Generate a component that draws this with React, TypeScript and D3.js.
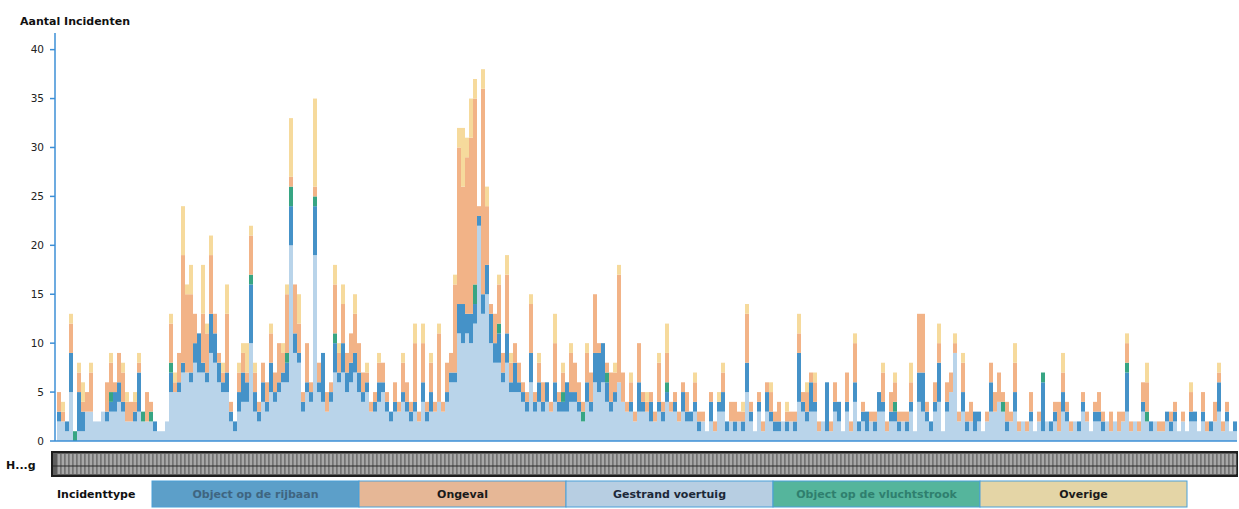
import React from 'react'
import * as d3 from 'd3'

// incident counts per period, stacked bottom to top
const gestrand = [
  2, 2, 1, 5, 0, 1, 1, 3, 3, 2, 2, 3, 2, 3, 3, 4, 3, 2, 2, 2,
  3, 2, 2, 2, 1, 1, 1, 2, 5, 5, 5, 7, 7, 6, 8, 7, 7, 6, 9, 8,
  6, 5, 5, 2, 1, 3, 4, 4, 10, 3, 2, 4, 3, 5, 4, 5, 6, 6, 20, 9,
  8, 3, 5, 4, 19, 5, 4, 3, 4, 7, 6, 7, 5, 6, 7, 5, 4, 5, 3, 3,
  4, 5, 3, 2, 3, 3, 4, 3, 2, 3, 2, 4, 2, 3, 3, 4, 3, 4, 6, 6,
  11, 10, 11, 10, 12, 22, 13, 15, 10, 8, 8, 6, 8, 5, 5, 5, 4, 3, 6, 3,
  4, 3, 4, 3, 4, 3, 3, 3, 4, 4, 3, 2, 4, 3, 6, 5, 6, 4, 3, 4,
  6, 4, 3, 3, 2, 3, 3, 3, 2, 2, 3, 2, 4, 3, 3, 2, 3, 2, 2, 3,
  1, 2, 1, 2, 1, 3, 3, 1, 2, 1, 2, 1, 5, 2, 1, 3, 1, 3, 2, 1,
  1, 2, 1, 2, 1, 4, 3, 2, 3, 3, 1, 2, 1, 1, 3, 2, 1, 3, 1, 4,
  1, 2, 1, 2, 1, 3, 3, 1, 2, 2, 1, 2, 1, 3, 1, 4, 3, 2, 1, 3,
  4, 1, 3, 5, 9, 2, 3, 1, 2, 1, 2, 1, 2, 3, 3, 4, 3, 1, 2, 3,
  1, 2, 1, 2, 1, 2, 1, 2, 1, 2, 1, 3, 2, 1, 2, 1, 3, 2, 1, 2,
  2, 1, 2, 1, 2, 1, 2, 3, 1, 2, 1, 3, 2, 1, 2, 1, 1, 2, 1, 2,
  1, 2, 1, 2, 2, 1, 2, 1, 1, 2, 3, 1, 2, 1, 1,
]
const rijbaan = [
  1, 0, 1, 4, 0, 4, 2, 0, 0, 0, 0, 0, 1, 1, 2, 2, 1, 0, 0, 1,
  4, 0, 0, 0, 1, 0, 0, 0, 2, 0, 1, 1, 0, 1, 2, 4, 1, 1, 4, 3,
  2, 1, 2, 1, 1, 2, 3, 2, 6, 2, 1, 2, 1, 3, 1, 1, 1, 2, 4, 2,
  1, 1, 1, 1, 5, 1, 5, 0, 1, 3, 1, 3, 2, 2, 2, 2, 1, 1, 0, 1,
  2, 1, 1, 1, 1, 0, 1, 1, 1, 1, 0, 2, 1, 2, 0, 0, 0, 1, 1, 1,
  3, 4, 2, 3, 2, 1, 2, 3, 3, 2, 3, 1, 3, 1, 3, 1, 1, 1, 3, 1,
  2, 1, 2, 0, 2, 1, 1, 3, 1, 1, 1, 0, 2, 1, 3, 4, 4, 2, 1, 1,
  0, 0, 0, 1, 0, 3, 1, 0, 2, 0, 1, 1, 1, 0, 1, 0, 2, 1, 1, 1,
  1, 0, 0, 2, 0, 1, 2, 1, 0, 1, 0, 1, 3, 1, 0, 1, 0, 2, 1, 1,
  1, 0, 1, 0, 1, 5, 1, 1, 3, 1, 0, 0, 5, 0, 1, 2, 0, 1, 0, 2,
  1, 1, 2, 0, 1, 2, 1, 0, 1, 1, 1, 0, 1, 1, 0, 3, 4, 1, 1, 1,
  4, 0, 1, 0, 0, 0, 2, 1, 0, 2, 1, 0, 0, 3, 0, 0, 0, 1, 0, 2,
  0, 0, 0, 1, 0, 0, 5, 0, 1, 1, 0, 2, 1, 0, 0, 1, 1, 0, 0, 1,
  1, 1, 0, 0, 0, 0, 0, 4, 0, 0, 0, 1, 0, 1, 0, 0, 0, 1, 1, 1,
  0, 0, 0, 1, 1, 0, 1, 0, 1, 0, 3, 0, 1, 0, 1,
]
const vluchtstrook = [
  0, 0, 0, 0, 1, 0, 0, 0, 0, 0, 0, 0, 0, 1, 0, 0, 0, 0, 0, 0,
  0, 1, 0, 1, 0, 0, 0, 0, 1, 0, 0, 0, 0, 0, 0, 0, 0, 0, 0, 0,
  0, 0, 0, 0, 0, 0, 0, 0, 1, 0, 0, 0, 0, 0, 0, 0, 0, 1, 2, 0,
  0, 0, 0, 0, 1, 0, 0, 0, 0, 1, 0, 0, 0, 0, 0, 0, 0, 0, 0, 0,
  0, 0, 0, 0, 0, 0, 0, 0, 0, 0, 0, 0, 0, 0, 0, 0, 0, 0, 0, 0,
  0, 0, 0, 0, 2, 0, 0, 0, 0, 0, 1, 0, 0, 0, 0, 0, 0, 0, 0, 0,
  0, 0, 0, 0, 0, 0, 1, 0, 0, 0, 0, 1, 0, 0, 0, 0, 0, 1, 0, 0,
  0, 0, 0, 0, 0, 0, 0, 0, 0, 0, 0, 0, 1, 0, 0, 0, 0, 0, 0, 0,
  0, 0, 0, 0, 0, 0, 0, 0, 0, 0, 0, 0, 0, 0, 0, 0, 0, 0, 0, 0,
  0, 0, 0, 0, 0, 0, 0, 0, 0, 0, 0, 0, 0, 0, 0, 0, 0, 0, 0, 0,
  0, 0, 0, 0, 0, 0, 0, 0, 0, 1, 0, 0, 0, 0, 0, 0, 0, 0, 0, 0,
  0, 0, 0, 0, 0, 0, 0, 0, 0, 0, 0, 0, 0, 0, 0, 0, 1, 0, 0, 0,
  0, 0, 0, 0, 0, 0, 1, 0, 0, 0, 0, 0, 0, 0, 0, 0, 0, 0, 0, 0,
  0, 0, 0, 0, 0, 0, 0, 1, 0, 0, 0, 0, 1, 0, 0, 0, 0, 0, 0, 0,
  0, 0, 0, 0, 0, 0, 0, 0, 0, 0, 0, 0, 0, 0, 0,
]
const ongeval = [
  2, 1, 0, 3, 0, 2, 1, 2, 4, 0, 0, 0, 3, 3, 1, 3, 3, 2, 2, 1,
  1, 0, 3, 1, 0, 0, 0, 0, 4, 1, 3, 11, 8, 8, 3, 0, 5, 4, 6, 2,
  1, 1, 6, 1, 0, 2, 2, 1, 4, 2, 1, 2, 2, 3, 2, 4, 2, 6, 1, 5,
  3, 1, 4, 1, 1, 2, 0, 2, 1, 5, 2, 4, 2, 3, 4, 3, 2, 1, 1, 1,
  2, 2, 1, 0, 2, 1, 3, 2, 1, 6, 1, 4, 1, 3, 1, 7, 1, 3, 2, 9,
  16, 12, 16, 18, 19, 1, 21, 6, 1, 3, 4, 2, 6, 2, 2, 2, 1, 1, 5, 1,
  2, 2, 0, 1, 4, 1, 2, 0, 4, 3, 2, 1, 3, 3, 6, 1, 0, 1, 3, 2,
  11, 3, 1, 2, 1, 4, 1, 1, 1, 1, 4, 1, 3, 1, 1, 1, 1, 2, 0, 2,
  1, 1, 0, 1, 1, 0, 2, 0, 2, 2, 1, 1, 5, 1, 0, 1, 1, 1, 2, 1,
  2, 0, 1, 1, 1, 2, 1, 2, 1, 2, 1, 0, 0, 1, 2, 0, 0, 3, 1, 4,
  0, 1, 0, 1, 1, 0, 3, 1, 2, 2, 1, 1, 1, 2, 0, 6, 6, 1, 0, 2,
  2, 0, 2, 2, 1, 1, 3, 1, 2, 0, 0, 0, 1, 2, 2, 3, 1, 2, 1, 3,
  1, 0, 1, 2, 0, 1, 0, 0, 0, 1, 3, 2, 1, 1, 0, 0, 1, 1, 0, 1,
  2, 1, 0, 2, 0, 2, 1, 2, 1, 0, 1, 2, 3, 0, 0, 1, 1, 0, 1, 1,
  0, 1, 0, 2, 0, 0, 2, 1, 0, 2, 1, 1, 1, 0, 0,
]
const overige = [
  0, 1, 0, 1, 0, 1, 2, 0, 1, 0, 0, 0, 0, 1, 0, 0, 1, 1, 0, 1,
  1, 0, 0, 0, 0, 0, 0, 0, 1, 1, 0, 5, 1, 3, 0, 0, 5, 1, 2, 0,
  0, 1, 3, 0, 0, 1, 1, 3, 1, 1, 0, 0, 0, 1, 0, 0, 1, 1, 6, 0,
  3, 0, 0, 0, 9, 0, 0, 0, 0, 2, 1, 2, 0, 0, 2, 0, 0, 1, 0, 0,
  1, 0, 0, 0, 0, 0, 1, 0, 0, 2, 0, 2, 0, 1, 0, 1, 0, 0, 0, 1,
  2, 6, 2, 4, 2, 0, 2, 2, 0, 0, 1, 0, 2, 1, 0, 0, 0, 0, 1, 0,
  1, 0, 0, 0, 3, 0, 1, 0, 1, 0, 0, 0, 1, 0, 0, 0, 0, 0, 0, 1,
  1, 0, 0, 1, 0, 0, 0, 1, 0, 0, 1, 0, 3, 0, 0, 0, 0, 0, 0, 1,
  0, 0, 0, 0, 0, 1, 1, 0, 0, 0, 0, 1, 1, 0, 0, 0, 0, 0, 1, 0,
  0, 0, 1, 0, 0, 2, 0, 1, 0, 1, 0, 0, 0, 0, 0, 0, 0, 0, 0, 1,
  0, 0, 0, 0, 0, 0, 1, 0, 0, 1, 0, 0, 0, 2, 0, 0, 0, 0, 0, 0,
  2, 0, 0, 0, 1, 0, 1, 0, 0, 0, 0, 0, 0, 0, 0, 0, 0, 0, 0, 2,
  0, 0, 0, 0, 0, 0, 0, 0, 0, 0, 0, 2, 0, 0, 0, 0, 0, 0, 0, 0,
  0, 0, 0, 0, 0, 0, 0, 1, 0, 0, 0, 0, 2, 0, 0, 0, 0, 0, 0, 0,
  0, 0, 0, 1, 0, 0, 0, 0, 0, 0, 1, 0, 0, 0, 0,
]

const yTicks = [0, 5, 10, 15, 20, 25, 30, 35, 40]

// stack order (bottom -> top) and legend order differ
const stackKeys = ['gestrand', 'rijbaan', 'vluchtstrook', 'ongeval', 'overige']
const legendKeys = ['rijbaan', 'ongeval', 'gestrand', 'vluchtstrook', 'overige']

const labels: Record<string, string> = {
  rijbaan: 'Object op de rijbaan',
  ongeval: 'Ongeval',
  gestrand: 'Gestrand voertuig',
  vluchtstrook: 'Object op de vluchtstrook',
  overige: 'Overige',
}
const barColor: Record<string, string> = {
  gestrand: '#b9d4ea',
  rijbaan: '#4592c8',
  vluchtstrook: '#37a583',
  ongeval: '#f2b387',
  overige: '#f6da9c',
}
const legendFill: Record<string, string> = {
  rijbaan: '#5c9fc9',
  ongeval: '#e6b796',
  gestrand: '#b7cee2',
  vluchtstrook: '#55b59c',
  overige: '#e4d5a6',
}
const legendText: Record<string, string> = {
  rijbaan: '#3f6580',
  ongeval: '#1a1a1a',
  gestrand: '#1c2838',
  vluchtstrook: '#2f7f6e',
  overige: '#1a1a1a',
}

const series: Record<string, number[]> = { gestrand, rijbaan, vluchtstrook, ongeval, overige }

const App: React.FC = () => {
  const width = 1239
  const height = 509
  const left = 57
  const right = 1237
  const baseY = 441

  const rows = gestrand.map((_, i) => {
    const row: Record<string, number> = { i }
    stackKeys.forEach((k) => { row[k] = series[k][i] })
    return row
  })

  const stacked = d3.stack<Record<string, number>>().keys(stackKeys)(rows)

  const xScale = d3.scaleBand<number>()
    .domain(rows.map((r) => r.i))
    .range([left, right])
    .padding(0)
  const yScale = d3.scaleLinear().domain([0, 41.7]).range([baseY, 33])

  const font = '"DejaVu Sans", Verdana, sans-serif'
  const axisColor = '#3d8fd6'

  const legendX = d3.scaleBand<string>().domain(legendKeys).range([152, 1187])

  return (
    <svg width={width} height={height} style={{ position: 'absolute', left: 0, top: 0 }} fontFamily={font}>
      <rect width={width} height={height} fill="#fff" />
      <text x={20} y={25} fontSize={11} fontWeight="bold" fill="#111">Aantal Incidenten</text>

      {stacked.map((layer) => (
        <g key={layer.key} fill={barColor[layer.key]}>
          {layer.map((d, i) => (
            d[1] > d[0] ? (
              <rect
                key={i}
                x={xScale(i)}
                y={yScale(d[1])}
                width={xScale.bandwidth()}
                height={yScale(d[0]) - yScale(d[1])}
              />
            ) : null
          ))}
        </g>
      ))}

      {/* y axis */}
      <line x1={55} x2={55} y1={33} y2={baseY} stroke={axisColor} strokeWidth={1.5} />
      <line x1={55} x2={right} y1={baseY} y2={baseY} stroke={axisColor} strokeWidth={1.5} />
      {yTicks.map((t) => (
        <g key={t} transform={`translate(0,${yScale(t)})`}>
          <line x1={50} x2={55} stroke={axisColor} strokeWidth={1.5} />
          <text x={44} dy="0.35em" textAnchor="end" fontSize={10.5} fill="#222">{t}</text>
        </g>
      ))}

      {/* overview strip */}
      <text x={6} y={469} fontSize={11} fontWeight="bold" fill="#111">H...g</text>
      <rect x={52} y={452} width={right - 52} height={24} fill="#5e5e5e" stroke="#1e1e1e" strokeWidth={2} />
      {rows.map((r) => (
        <rect key={r.i} x={(xScale(r.i) as number) + 0.5} y={454} width={xScale.bandwidth() - 1.2} height={20} fill="#a8a8a8" />
      ))}
      <line x1={53} x2={right - 1} y1={466} y2={466} stroke="#2a2a2a" strokeWidth={1.2} />

      {/* legend */}
      <text x={57} y={498} fontSize={11} fontWeight="bold" fill="#111">Incidenttype</text>
      {legendKeys.map((k) => (
        <g key={k} transform={`translate(${legendX(k)},481)`}>
          <rect width={legendX.bandwidth()} height={26} fill={legendFill[k]} stroke="#4aa0d8" strokeWidth={1} />
          <text x={legendX.bandwidth() / 2} y={17} textAnchor="middle" fontSize={11} fontWeight="bold" fill={legendText[k]}>
            {labels[k]}
          </text>
        </g>
      ))}
    </svg>
  )
}

export default App
